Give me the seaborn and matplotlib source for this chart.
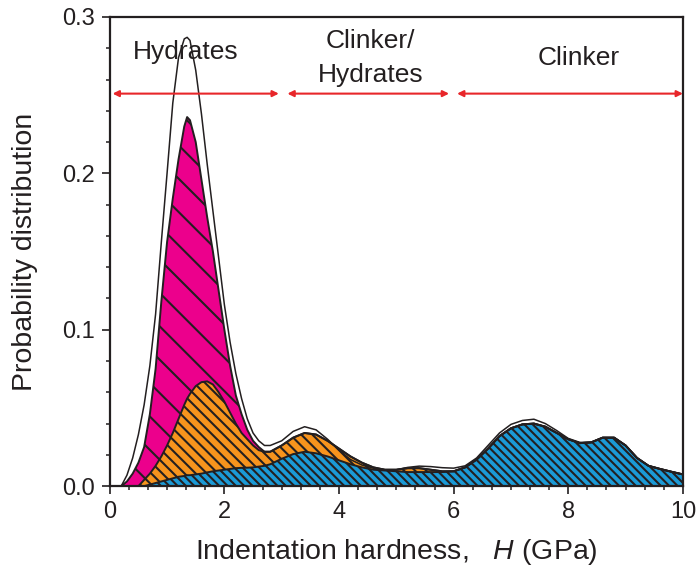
#!/usr/bin/env python3
# -*- coding: utf-8 -*-
"""
Probability distribution of indentation hardness, with the fitted
hydrate / mixed / clinker phases stacked under the measured curve.
"""

import matplotlib.pyplot as plt
import numpy as np
import seaborn as sns
from matplotlib.ticker import AutoMinorLocator, MultipleLocator

# Indentation hardness H (GPa)
hardness = [
    0.0, 0.2, 0.3, 0.4, 0.5, 0.6, 0.7, 0.8, 0.9, 1.0, 1.1, 1.2, 1.3, 1.35,
    1.4, 1.5, 1.6, 1.7, 1.8, 1.9, 2.0, 2.1, 2.2, 2.3, 2.4, 2.5, 2.6, 2.7,
    2.8, 3.0, 3.2, 3.4, 3.6, 3.8, 4.0, 4.2, 4.4, 4.6, 4.8, 5.0, 5.2, 5.4,
    5.6, 5.8, 6.0, 6.2, 6.4, 6.6, 6.8, 7.0, 7.2, 7.4, 7.6, 7.8, 8.0, 8.2,
    8.4, 8.6, 8.8, 9.0, 9.2, 9.4, 9.6, 9.8, 10.0,
]

# Measured distribution (outer curve)
measured = [
    0.0, 0.0, 0.007, 0.018, 0.033, 0.052, 0.077, 0.110, 0.156, 0.200,
    0.245, 0.274, 0.286, 0.287, 0.285, 0.266, 0.238, 0.206, 0.176, 0.146,
    0.116, 0.092, 0.072, 0.056, 0.043, 0.034, 0.029, 0.026, 0.026, 0.029,
    0.035, 0.038, 0.036, 0.030, 0.023, 0.017, 0.0135, 0.0115, 0.0105,
    0.0105, 0.012, 0.0128, 0.0125, 0.0118, 0.0115, 0.013, 0.018, 0.026,
    0.034, 0.0395, 0.042, 0.0428, 0.040, 0.0355, 0.0305, 0.028, 0.028,
    0.031, 0.031, 0.026, 0.018, 0.013, 0.011, 0.0092, 0.0075,
]

# Cumulative fitted phases (top of each stacked layer)
hydrates_top = [
    0.0, 0.0, 0.003, 0.008, 0.015, 0.025, 0.046, 0.075, 0.118, 0.156,
    0.184, 0.209, 0.230, 0.236, 0.234, 0.220, 0.196, 0.172, 0.150, 0.125,
    0.100, 0.077, 0.058, 0.046, 0.036, 0.029, 0.025, 0.022, 0.022, 0.026,
    0.031, 0.034, 0.033, 0.029, 0.024, 0.019, 0.015, 0.012, 0.0105,
    0.0105, 0.0115, 0.0115, 0.0105, 0.0095, 0.0095, 0.012, 0.017, 0.024,
    0.032, 0.037, 0.0395, 0.040, 0.038, 0.034, 0.030, 0.0275, 0.028,
    0.031, 0.031, 0.026, 0.018, 0.013, 0.011, 0.0092, 0.0075,
]
mixed_top = [
    0.0, 0.0, 0.0, 0.0, 0.0, 0.004, 0.008, 0.013, 0.019, 0.026,
    0.034, 0.043, 0.052, 0.056, 0.059, 0.064, 0.0665, 0.067, 0.065, 0.060,
    0.054, 0.047, 0.040, 0.034, 0.030, 0.026, 0.023, 0.022, 0.022, 0.026,
    0.031, 0.034, 0.033, 0.029, 0.024, 0.019, 0.015, 0.012, 0.0105,
    0.0105, 0.0115, 0.0115, 0.0105, 0.0095, 0.0095, 0.012, 0.017, 0.024,
    0.032, 0.037, 0.0395, 0.040, 0.038, 0.034, 0.030, 0.0275, 0.028,
    0.031, 0.031, 0.026, 0.018, 0.013, 0.011, 0.0092, 0.0075,
]
clinker_top = [
    0.0, 0.0, 0.0, 0.0, 0.0, 0.0, 0.001, 0.002, 0.003, 0.004,
    0.005, 0.006, 0.0065, 0.007, 0.007, 0.0075, 0.008, 0.0088, 0.0095,
    0.010, 0.0105, 0.011, 0.0115, 0.0117, 0.0118, 0.012, 0.0125, 0.013,
    0.014, 0.0175, 0.0205, 0.022, 0.021, 0.019, 0.0165, 0.014, 0.012,
    0.0105, 0.010, 0.0095, 0.009, 0.009, 0.009, 0.009, 0.0095, 0.012,
    0.017, 0.024, 0.032, 0.037, 0.0395, 0.040, 0.038, 0.034, 0.030,
    0.0275, 0.028, 0.031, 0.031, 0.026, 0.018, 0.013, 0.011, 0.0092,
    0.0075,
]

# Region labels and their ranges (GPa)
region_labels = ["Hydrates", "Clinker/\nHydrates", "Clinker"]
region_ranges = [(0.05, 2.95), (3.1, 5.92), (6.06, 10.0)]

x_ticks = [0, 2, 4, 6, 8, 10]
y_ticks = [0.0, 0.1, 0.2, 0.3]

sns.set_theme(style="ticks")
plt.rcParams["font.family"] = ["Liberation Sans", "DejaVu Sans"]
plt.rcParams["mathtext.fontset"] = "custom"
plt.rcParams["mathtext.it"] = "Liberation Sans:italic"
plt.rcParams["mathtext.rm"] = "Liberation Sans"
plt.rcParams["hatch.linewidth"] = 1.5
plt.rcParams["hatch.color"] = "#231f20"

ink = "#231f20"
fig = plt.figure(figsize=(6.99, 5.76), dpi=100)
ax = fig.add_axes([0.157, 0.156, 0.82, 0.8145])

H = np.array(hardness)
zero = np.zeros_like(H)

# Stacked, hatched phase areas
ax.fill_between(H, zero, clinker_top, facecolor="#1b9ad6",
                edgecolor=ink, hatch="\\\\\\\\", linewidth=0)
ax.fill_between(H, clinker_top, mixed_top, facecolor="#f7941d",
                edgecolor=ink, hatch="\\\\\\", linewidth=0)
ax.fill_between(H, mixed_top, hydrates_top, facecolor="#ec008c",
                edgecolor=ink, hatch="\\", linewidth=0)

# Outlines
sns.lineplot(x=H, y=measured, color=ink, linewidth=1.1, ax=ax)
for top in [hydrates_top, mixed_top, clinker_top]:
    sns.lineplot(x=H, y=top, color=ink, linewidth=1.4, ax=ax)

# Region arrows and labels
for x0, x1 in region_ranges:
    ax.annotate(
        "", xy=(x0, 0.251), xytext=(x1, 0.251),
        arrowprops=dict(arrowstyle="<|-|>", color="#e8262a", lw=1.5,
                        mutation_scale=9, shrinkA=0, shrinkB=0),
    )
label_x = [1.32, 4.55, 8.18]
label_y = [[0.273], [0.280, 0.2585], [0.269]]
for label, lx, ly in zip(region_labels, label_x, label_y):
    for line, y in zip(label.split("\n"), ly):
        ax.text(lx, y, line, ha="center", va="baseline", fontsize=19,
                color=ink)

ax.set_xlim(0, 10)
ax.set_ylim(0, 0.3)
ax.set_xticks(x_ticks)
ax.set_yticks(y_ticks)
ax.set_yticklabels([f"{v:.1f}" for v in y_ticks])
ax.xaxis.set_minor_locator(AutoMinorLocator(6))
ax.yaxis.set_minor_locator(MultipleLocator(0.02))
ax.tick_params(which="major", length=6, width=1.2, labelsize=17,
               colors=ink, pad=5)
ax.tick_params(which="minor", length=3, width=1.1, colors=ink)
ax.tick_params(top=False, right=False, which="both")

for spine in ax.spines.values():
    spine.set_visible(True)
    spine.set_linewidth(1.6)
    spine.set_color(ink)

ax.set_xlabel("Indentation hardness,   $\\it{H}$ (GPa)", fontsize=20.5,
              color=ink, labelpad=10)
ax.set_ylabel("Probability distribution", fontsize=20.5, color=ink,
              labelpad=17)

fig.savefig("out.png", dpi=100)
